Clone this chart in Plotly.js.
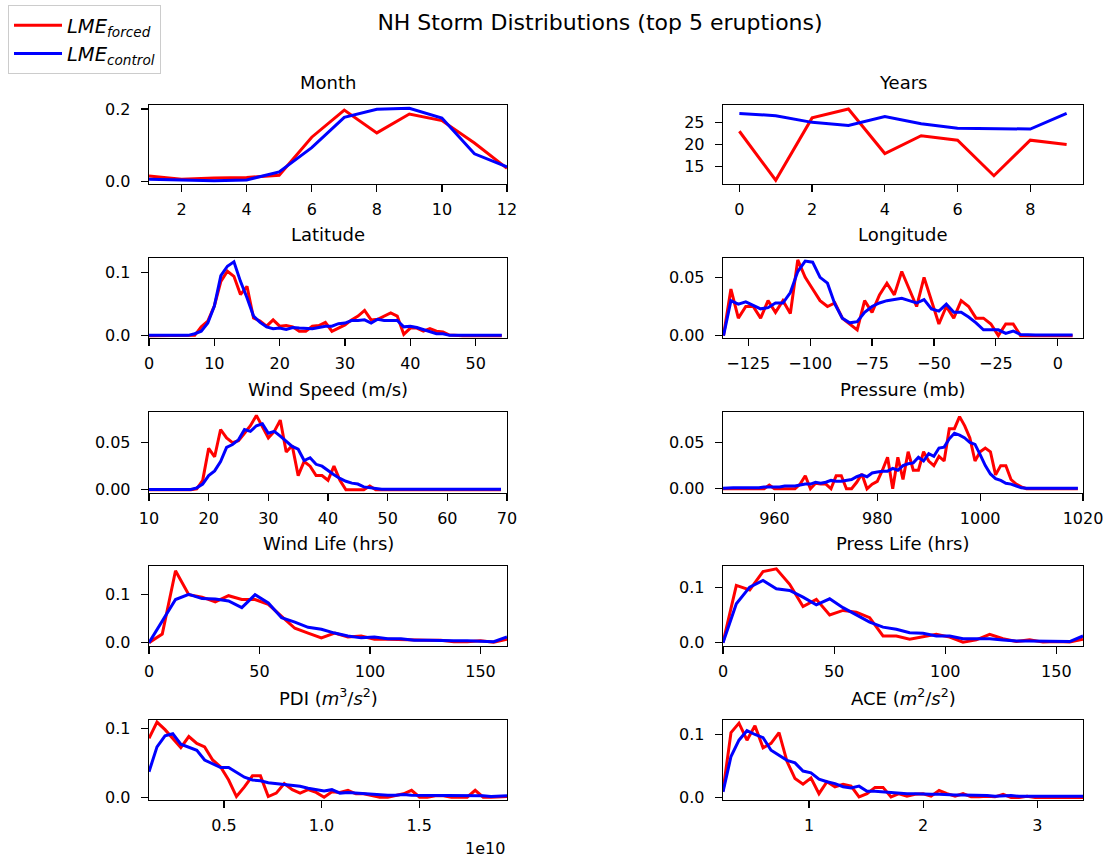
<!DOCTYPE html>
<html>
<head>
<meta charset="utf-8">
<script src="https://cdn.plot.ly/plotly-3.0.1.min.js"></script>
<style>html,body{margin:0;padding:0;background:#fff;}#chart{width:1111px;height:865px;}</style>
</head>
<body>
<div id="chart"></div>
<script>
// ---------------- data ----------------
const seriesNames = ['<i>LME<sub>forced</sub></i>', '<i>LME<sub>control</sub></i>'];
const panelTitles = ['Month', 'Years', 'Latitude', 'Longitude', 'Wind Speed (m/s)', 'Pressure (mb)',
  'Wind Life (hrs)', 'Press Life (hrs)', 'PDI (<i>m</i><sup>3</sup>/<i>s</i><sup>2</sup>)', 'ACE (<i>m</i><sup>2</sup>/<i>s</i><sup>2</sup>)'];

const monthX = [1,2,3,4,5,6,7,8,9,10,11,12];
const monthForced  = [0.015,0.006,0.009,0.011,0.017,0.122,0.197,0.134,0.186,0.168,0.106,0.036];
const monthControl = [0.006,0.004,0.002,0.004,0.026,0.093,0.177,0.199,0.202,0.175,0.076,0.040];

const yearsX = [0,1,2,3,4,5,6,7,8,9];
const yearsForced  = [23,12,26,28,18,22,21,13,21,20];
const yearsControl = [27.0,26.5,25.0,24.3,26.3,24.7,23.7,23.6,23.5,27.0];

const latX = [0,1,2,3,4,5,6,7,8,9,10,11,12,13,14,15,16,17,18,19,20,21,22,23,24,25,26,27,28,29,30,31,32,33,34,35,36,37,38,39,40,41,42,43,44,45,46,47,48,49,50,51,52,53,54];
const latForced = [0,0,0,0,0,0,0,0.0005,0.014,0.023,0.047,0.086,0.102,0.094,0.065,0.078,0.028,0.023,0.015,0.025,
  0.015,0.016,0.014,0.007,0.007,0.015,0.016,0.021,0.007,0.012,0.017,0.025,0.031,0.040,0.025,0.026,0.031,0.036,0.031,0.002,
  0.012,0.012,0.007,0.011,0.007,0.006,0.001,0,0,0,0,0,0,0,0];
const latControl = [0.0005,0.0005,0.0005,0.0005,0.0005,0.0005,0.0005,0.003,0.007,0.020,0.047,0.095,0.110,0.117,0.086,0.060,0.031,0.021,0.014,0.011,
  0.012,0.010,0.013,0.012,0.011,0.011,0.013,0.015,0.015,0.019,0.020,0.024,0.024,0.025,0.020,0.026,0.024,0.024,0.024,0.014,
  0.015,0.013,0.010,0.007,0.003,0.003,0.0005,0.0005,0.0005,0.0005,0.0005,0.0005,0.0005,0.0005,0.0005];

const lonX = [-135,-132,-129,-126,-123,-120,-117,-114,-111,-108,-105,-102,-99,-96,-93,-90,-87,-84,-81,-78,-75,-72,-69,-66,
  -63,-60,-57,-54,-51,-48,-45,-42,-39,-36,-33,-30,-27,-24,-21,-18,-15,-12,-9,-6,-3,0,3,6];
const lonForced = [0.0,0.040,0.015,0.025,0.025,0.015,0.030,0.020,0.030,0.019,0.065,0.050,0.040,0.030,0.025,0.028,0.015,0.010,0.005,0.030,
  0.020,0.035,0.045,0.035,0.055,0.040,0.025,0.050,0.030,0.010,0.025,0.015,0.030,0.025,0.015,0.015,0.010,0.0,0.010,0.010,
  0.0,0,0,0,0,0,0,0];
const lonControl = [0.0,0.030,0.027,0.029,0.026,0.023,0.024,0.028,0.028,0.037,0.055,0.064,0.063,0.050,0.045,0.027,0.015,0.011,0.012,0.020,
  0.025,0.028,0.030,0.031,0.032,0.030,0.028,0.031,0.023,0.021,0.027,0.020,0.020,0.016,0.011,0.005,0.005,0.005,0.002,0.004,
  0.001,0.0005,0.0005,0.0005,0.0005,0.0005,0.0005,0.0005];

const windX = [10,11,12,13,14,15,16,17,18,19,20,21,22,23,24,25,26,27,28,29,30,31,32,33,34,35,36,37,38,39,
  40,41,42,43,44,45,46,47,48,49,50,51,52,53,54,55,56,57,58,59,60,61,62,63,64,65,66,67,68,69];
const windForced = [0,0,0,0,0,0,0,0,0.001,0.010,0.044,0.035,0.064,0.055,0.050,0.052,0.060,0.068,0.079,0.067,
  0.055,0.062,0.074,0.040,0.047,0.015,0.030,0.025,0.015,0.015,0.010,0.025,0.010,0,0,0,0,0.004,0,0,
  0,0,0,0,0,0,0,0,0,0,0,0,0,0,0,0,0,0,0,0];
const windControl = [0.0003,0.0003,0.0003,0.0003,0.0003,0.0003,0.0003,0.0003,0.002,0.006,0.015,0.020,0.030,0.045,0.048,0.053,0.064,0.062,0.068,0.070,
  0.060,0.062,0.057,0.051,0.046,0.043,0.031,0.034,0.027,0.025,0.020,0.016,0.012,0.009,0.007,0.006,0.003,0.002,0.001,0.0005,
  0.0005,0.0005,0.0005,0.0005,0.0005,0.0005,0.0005,0.0005,0.0005,0.0005,0.0005,0.0005,0.0005,0.0005,0.0005,0.0005,0.0005,0.0005,0.0005,0.0005];

const pressX = [950,951,952,953,954,955,956,957,958,959,960,961,962,963,964,965,966,967,968,969,970,971,972,973,974,975,976,977,978,979,
  980,981,982,983,984,985,986,987,988,989,990,991,992,993,994,995,996,997,998,999,1000,1001,1002,1003,1004,1005,1006,1007,1008,1009,
  1010,1011,1012,1013,1014,1015,1016,1017,1018,1019];
const pressForced = [0,0,0,0,0,0,0,0,0,0.004,0,0,0,0,0,0.005,0.014,0.0,0.006,0.005,
  0.005,0.0,0.014,0.014,0.0,0.0,0.007,0.016,0.0,0.005,0.008,0.020,0.034,0.0,0.034,0.010,0.040,0.020,0.020,0.040,
  0.030,0.025,0.035,0.030,0.065,0.065,0.078,0.068,0.055,0.030,0.040,0.044,0.040,0.015,0.025,0.025,0.010,0.005,0.002,0,
  0,0,0,0,0,0,0,0,0,0];
const pressControl = [0.0005,0.001,0.001,0.001,0.001,0.001,0.001,0.001,0.002,0.002,0.002,0.002,0.003,0.003,0.003,0.004,0.005,0.005,0.007,0.006,
  0.007,0.009,0.008,0.008,0.009,0.010,0.013,0.015,0.013,0.017,0.018,0.019,0.019,0.022,0.020,0.025,0.027,0.028,0.034,0.030,
  0.038,0.035,0.044,0.045,0.054,0.060,0.058,0.055,0.050,0.048,0.037,0.025,0.016,0.011,0.009,0.006,0.005,0.003,0.001,0.0005,
  0.0005,0.0005,0.0005,0.0005,0.0005,0.0005,0.0005,0.0005,0.0005,0.0005];

const lifeX = [0,6,12,18,24,30,36,42,48,54,60,66,72,78,84,90,96,102,108,114,120,126,132,138,144,150,156,162];
const windLifeForced  = [0.0,0.018,0.150,0.100,0.095,0.085,0.098,0.090,0.090,0.080,0.055,0.030,0.020,0.010,0.020,0.012,0.014,0.007,0.007,0.006,0.005,0.005,0.005,0.002,0.002,0.004,0.001,0.007];
const windLifeControl = [0.0,0.045,0.090,0.101,0.092,0.091,0.087,0.073,0.100,0.083,0.052,0.043,0.032,0.028,0.020,0.014,0.010,0.012,0.008,0.008,0.005,0.005,0.004,0.004,0.004,0.003,0.002,0.012];
const pressLifeForced  = [0.0,0.103,0.095,0.128,0.133,0.105,0.065,0.078,0.050,0.058,0.055,0.045,0.012,0.012,0.006,0.010,0.015,0.010,0.001,0.005,0.015,0.007,0.002,0.005,0.001,0.002,0.001,0.006];
const pressLifeControl = [0.0,0.070,0.100,0.112,0.097,0.094,0.082,0.068,0.079,0.063,0.050,0.037,0.028,0.024,0.018,0.017,0.012,0.012,0.007,0.007,0.007,0.005,0.003,0.003,0.003,0.002,0.002,0.012];

const pdiX = [1.16e9,1.57e9,1.98e9,2.38e9,2.79e9,3.20e9,3.61e9,4.01e9,4.42e9,4.83e9,5.24e9,5.64e9,6.05e9,6.46e9,6.87e9,7.27e9,7.68e9,8.09e9,8.50e9,8.90e9,
  9.31e9,9.72e9,10.13e9,10.53e9,10.94e9,11.35e9,11.76e9,12.16e9,12.57e9,12.98e9,13.39e9,13.79e9,14.20e9,14.61e9,15.02e9,15.42e9,15.83e9,16.24e9,16.65e9,17.05e9,
  17.46e9,17.87e9,18.28e9,18.68e9,19.09e9,19.50e9];
const pdiForced = [0.0855,0.109,0.098,0.085,0.072,0.088,0.078,0.073,0.054,0.044,0.025,0.001,0.015,0.031,0.031,0.001,0.006,0.020,0.011,0.006,
  0.011,0.007,0.0,0.008,0.007,0.010,0.005,0.005,0.003,0.0,0.0,0.003,0.005,0.010,0.0,0.0,0.002,0.002,0.0,0.0,
  0.0,0.010,0.0,0.0,0.0,0.001];
const pdiControl = [0.037,0.073,0.089,0.092,0.077,0.072,0.068,0.054,0.048,0.043,0.043,0.036,0.029,0.025,0.024,0.021,0.020,0.019,0.017,0.016,
  0.013,0.011,0.009,0.011,0.006,0.007,0.006,0.005,0.005,0.004,0.003,0.003,0.004,0.003,0.003,0.003,0.002,0.003,0.003,0.002,
  0.002,0.002,0.002,0.001,0.001,0.002];

const aceX = [0.246,0.316,0.386,0.456,0.526,0.597,0.667,0.737,0.807,0.877,0.947,1.017,1.087,1.157,1.227,1.298,1.368,1.438,1.508,1.578,
  1.648,1.718,1.788,1.858,1.928,1.999,2.069,2.139,2.209,2.279,2.349,2.419,2.489,2.559,2.629,2.700,2.770,2.840,2.910,2.980,
  3.050,3.120,3.190,3.260,3.330,3.400];
const aceForced = [0.010,0.103,0.118,0.091,0.114,0.079,0.086,0.103,0.057,0.030,0.021,0.031,0.006,0.025,0.017,0.021,0.018,0.001,0.006,0.016,
  0.016,0.001,0.006,0.002,0.005,0.006,0.002,0.011,0.006,0.002,0.006,0.001,0.001,0.002,0.001,0.005,0.0,0.0,0.002,0.0,
  0.0,0.0,0.0,0.0,0.0,0.0];
const aceControl = [0.009,0.065,0.091,0.106,0.100,0.095,0.075,0.067,0.059,0.055,0.042,0.039,0.029,0.025,0.022,0.017,0.015,0.018,0.010,0.010,
  0.009,0.007,0.006,0.006,0.006,0.005,0.005,0.005,0.004,0.004,0.004,0.004,0.004,0.003,0.002,0.003,0.003,0.002,0.002,0.002,
  0.002,0.002,0.003,0.003,0.002,0.002];

// tick labels
const monthTicks = [2,4,6,8,10,12];
const yearTicks = [0,2,4,6,8];
const latTicks = [0,10,20,30,40,50];
const lonTicks = [-125,-100,-75,-50,-25,0];
const windTicks = [10,20,30,40,50,60,70];
const pressTicks = [960,980,1000,1020];
const lifeTicks = [0,50,100,150];
const pdiTicks = [5e9,1e10,1.5e10];
const pdiTickText = ['0.5','1.0','1.5'];
const aceTicks = [1,2,3];

// ---------------- layout ----------------
const W = 1111, H = 865;
const colPx = [[149,507],[723,1083]];
const rowPx = [[105,184],[258,338],[412,493],[566,646],[720,800]];

const panels = [
  {x: monthX, f: monthForced, c: monthControl, xr:[1,12], yr:[-0.0073,0.211], xtv: monthTicks, ytv:[0,0.2], ytt:['0.0','0.2']},
  {x: yearsX, f: yearsForced, c: yearsControl, xr:[-0.45,9.45], yr:[11.15,28.9], xtv: yearTicks, ytv:[15,20,25], ytt:['15','20','25']},
  {x: latX, f: latForced, c: latControl, xr:[0,54.8], yr:[-0.0037,0.123], xtv: latTicks, ytv:[0,0.1], ytt:['0.0','0.1']},
  {x: lonX, f: lonForced, c: lonControl, xr:[-135.2,10.2], yr:[-0.002,0.0666], xtv: lonTicks, ytv:[0,0.05], ytt:['0.00','0.05']},
  {x: windX, f: windForced, c: windControl, xr:[10,70], yr:[-0.0035,0.0826], xtv: windTicks, ytv:[0,0.05], ytt:['0.00','0.05']},
  {x: pressX, f: pressForced, c: pressControl, xr:[950,1020], yr:[-0.0046,0.083], xtv: pressTicks, ytv:[0,0.05], ytt:['0.00','0.05']},
  {x: lifeX, f: windLifeForced, c: windLifeControl, xr:[0,162], yr:[-0.007,0.16], xtv: lifeTicks, ytv:[0,0.1], ytt:['0.0','0.1']},
  {x: lifeX, f: pressLifeForced, c: pressLifeControl, xr:[0,162], yr:[-0.006,0.138], xtv: lifeTicks, ytv:[0,0.1], ytt:['0.0','0.1']},
  {x: pdiX, f: pdiForced, c: pdiControl, xr:[1.16e9,1.95e10], yr:[-0.004,0.112], xtv: pdiTicks, xtt: pdiTickText, ytv:[0,0.1], ytt:['0.0','0.1']},
  {x: aceX, f: aceForced, c: aceControl, xr:[0.246,3.4], yr:[-0.004,0.123], xtv: aceTicks, ytv:[0,0.1], ytt:['0.0','0.1']}
];

const FONT = 'DejaVu Sans, Arial, sans-serif';
const TICK = 16, SUB = 18;
const traces = [];
const layout = {
  width: W, height: H,
  margin: {l:0, r:0, t:0, b:0},
  paper_bgcolor: '#fff', plot_bgcolor: '#fff',
  font: {family: FONT, size: TICK, color: '#000'},
  showlegend: true,
  legend: {x: 8/W, y: 1 - 5/H, xanchor: 'left', yanchor: 'top', bgcolor: '#fff', itemwidth: 48,
           bordercolor: '#cccccc', borderwidth: 1, font: {size: 19.5, family: FONT}, tracegroupgap: 0},
  title: {text: 'NH Storm Distributions (top 5 eruptions)', x: 600/W, xanchor: 'center', y: 1 - 22/H, yanchor: 'middle',
          font: {size: 22, family: FONT, color: '#000'}},
  annotations: []
};

panels.forEach((p, i) => {
  const n = i + 1;
  const col = i % 2, row = Math.floor(i / 2);
  const xa = 'x' + (n === 1 ? '' : n), ya = 'y' + (n === 1 ? '' : n);
  const xd = [colPx[col][0] / W, colPx[col][1] / W];
  const yd = [1 - rowPx[row][1] / H, 1 - rowPx[row][0] / H];
  traces.push({x: p.x, y: p.f, xaxis: xa, yaxis: ya, type: 'scatter', mode: 'lines', name: seriesNames[0],
               line: {color: '#ff0000', width: 3}, showlegend: i === 0, legendgroup: 'f'});
  traces.push({x: p.x, y: p.c, xaxis: xa, yaxis: ya, type: 'scatter', mode: 'lines', name: seriesNames[1],
               line: {color: '#0000ff', width: 3}, showlegend: i === 0, legendgroup: 'c'});
  const common = {showline: true, mirror: true, linecolor: '#000', linewidth: 1.3, ticks: 'outside', ticklen: 7,
                  tickwidth: 1.2, tickcolor: '#000', showgrid: false, zeroline: false,
                  tickfont: {size: TICK, family: FONT, color: '#000'}};
  layout['xaxis' + (n === 1 ? '' : n)] = Object.assign({}, common, {
    domain: xd, anchor: ya, range: p.xr, tickmode: 'array', tickvals: p.xtv, ticklabelstandoff: 3,
    ticktext: p.xtt ? p.xtt : p.xtv.map(v => v < 0 ? '\u2212' + Math.abs(v) : String(v))
  });
  layout['yaxis' + (n === 1 ? '' : n)] = Object.assign({}, common, {
    domain: yd, anchor: xa, range: p.yr, tickmode: 'array', tickvals: p.ytv, ticktext: p.ytt, ticklabelstandoff: 7
  });
  layout.annotations.push({text: panelTitles[i], xref: 'paper', yref: 'paper', x: (xd[0] + xd[1]) / 2, y: yd[1],
    xanchor: 'center', yanchor: 'middle', yshift: 23, showarrow: false, font: {size: SUB, family: FONT, color: '#000'}});
});
layout.annotations.push({text: '1e10', xref: 'paper', yref: 'paper', x: colPx[0][1] / W, y: 1 - 848 / H,
  xanchor: 'right', yanchor: 'middle', showarrow: false, font: {size: TICK, family: FONT, color: '#000'}});

Plotly.newPlot('chart', traces, layout, {displayModeBar: false, staticPlot: true});
</script>
</body>
</html>
